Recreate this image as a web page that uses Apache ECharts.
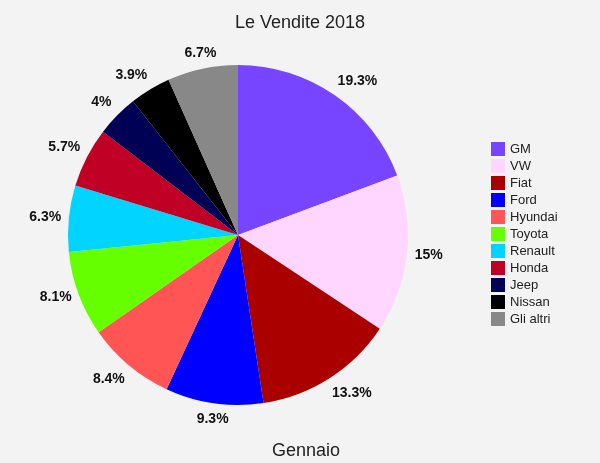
<!DOCTYPE html>
<html><head><meta charset="utf-8">
<script src="https://cdn.jsdelivr.net/npm/echarts@6/dist/echarts.min.js"></script>
<style>html,body{margin:0;padding:0;background:#f3f3f3}#c{width:600px;height:463px}</style>
</head><body><div id="c"></div>
<script>
const categories = ['GM','VW','Fiat','Ford','Hyundai','Toyota','Renault','Honda','Jeep','Nissan','Gli altri'];
const values = [19.3,15,13.3,9.3,8.4,8.1,6.3,5.7,4,3.9,6.7];
const colors = ['#7744ff','#ffd6ff','#aa0000','#0000ff','#ff5555','#66ff00','#00d4ff','#c00025','#000055','#000000','#888888'];
const CX = 238, CY = 235, R = 170, GAP = 10;
const total = values.reduce((a,b)=>a+b,0);
function midAngle(i){
  let s = 0; for (let k=0;k<i;k++) s += values[k];
  return (s + values[i]/2) / total * Math.PI * 2;
}
const chart = echarts.init(document.getElementById('c'));
chart.setOption({
  backgroundColor:'#f3f3f3',
  animation:false,
  title:[
    {text:'Le Vendite 2018',left:'center',top:9,textStyle:{fontFamily:'Liberation Sans, Arial',fontSize:18,fontWeight:'normal',color:'#222'}},
    {text:'Gennaio',left:301,textAlign:'center',top:437,textStyle:{fontFamily:'Liberation Sans, Arial',fontSize:18,fontWeight:'normal',color:'#222'}}
  ],
  legend:{orient:'vertical',left:491,top:142,itemWidth:14,itemHeight:14,itemGap:3,icon:'rect',padding:0,
    textStyle:{fontFamily:'Liberation Sans, Arial',fontSize:13,color:'#222',padding:[0,0,0,0]},data:categories},
  series:[{
    type:'pie',center:[CX,CY],radius:R,startAngle:90,clockwise:true,avoidLabelOverlap:false,
    color:colors,
    label:{show:true,position:'outside',formatter:'{c}%',distanceToLabelLine:0,
      fontFamily:'Liberation Sans, Arial',fontSize:14,fontWeight:'bold',color:'#111'},
    labelLine:{show:false,length:13,length2:0},
    labelLayout:function(p){
      const a = midAngle(p.dataIndex);
      const dx = Math.sin(a), dy = -Math.cos(a);
      const hw = p.labelRect.width/2 * 0.85, hh = 6;
      const gx = Math.abs(dx) > 0.4 ? Math.sign(dx) : 0;
      const gy = Math.abs(dy) > 0.4 ? Math.sign(dy) : 0;
      const d = R + GAP;
      return {x: CX + dx*d + hw*gx, y: CY + dy*d + hh*gy, align:'center', verticalAlign:'middle'};
    },
    emphasis:{disabled:true},
    data:categories.map((n,i)=>({name:n,value:values[i]}))
  }]
});
</script></body></html>
